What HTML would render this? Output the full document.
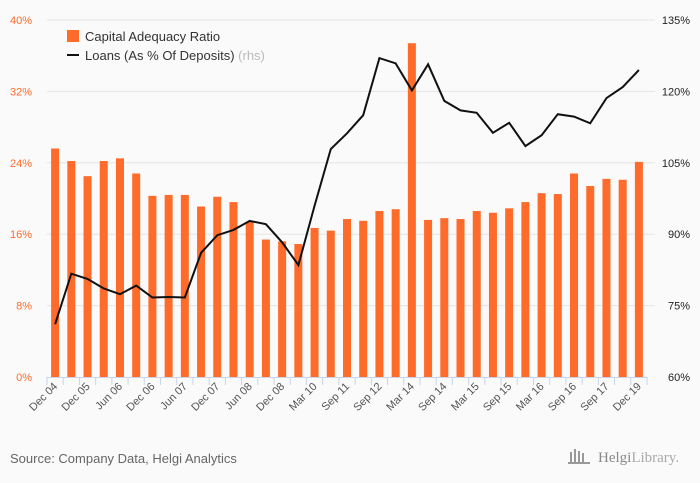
<!DOCTYPE html>
<html><head><meta charset="utf-8"><style>
html,body{margin:0;padding:0;background:#fafafa;}
body{width:700px;height:483px;overflow:hidden;font-family:"Liberation Sans",sans-serif;}
</style></head><body>
<svg width="700" height="483" viewBox="0 0 700 483" style="display:block">
<g id="grid"></g>
<g id="bars"></g>
<g id="line"></g>
<g id="yl"></g>
<g id="yr"></g>
<g id="xa"></g>
<g>
<rect x="67" y="30" width="12" height="12" fill="#ff6b2b"/>
<text x="85" y="41" font-size="13" fill="#333">Capital Adequacy Ratio</text>
<line x1="67" y1="55" x2="79" y2="55" stroke="#111" stroke-width="2"/>
<text x="85" y="60" font-size="13" fill="#333">Loans (As % Of Deposits) <tspan fill="#bbb">(rhs)</tspan></text>
</g>
<text x="10" y="463" font-size="13" fill="#666">Source: Company Data, Helgi Analytics</text>
<text x="598" y="462" font-size="15" fill="#888" font-family="Liberation Serif, serif">Helgi<tspan fill="#aaa">Library.</tspan></text>
<g fill="#999"><rect x="570" y="452" width="2" height="10"/><rect x="574" y="449" width="2" height="13"/><rect x="578" y="451" width="2" height="11"/><rect x="582" y="453" width="2" height="9"/><rect x="568" y="462" width="22" height="2"/></g>
</svg>
<script>
const categories=["Dec 04","","Dec 05","","Jun 06","","Dec 06","","Jun 07","","Dec 07","","Jun 08","","Dec 08","","Mar 10","","Sep 11","","Sep 12","","Mar 14","","Sep 14","","Mar 15","","Sep 15","","Mar 16","","Sep 16","","Sep 17","","Dec 19"];
const carValues=[25.6,24.2,22.5,24.2,24.5,22.8,20.3,20.4,20.4,19.1,20.2,19.6,17.4,15.4,15.2,14.9,16.7,16.4,17.7,17.5,18.6,18.8,37.4,17.6,17.8,17.7,18.6,18.4,18.9,19.6,20.6,20.5,22.8,21.4,22.2,22.1,24.1];
const loanValues=[71.1,81.7,80.6,78.6,77.4,79.2,76.7,76.8,76.7,86.1,89.8,90.9,92.8,92.1,88.3,83.5,96.0,107.9,111.2,115.0,127.0,125.9,120.2,125.7,118.0,116.0,115.5,111.3,113.4,108.5,110.8,115.2,114.7,113.3,118.6,120.9,124.5];
const leftTicks=[0,8,16,24,32,40];
const rightTicks=[60,75,90,105,120,135];
const NS="http://www.w3.org/2000/svg";
const X0=47,X1=647,Y0=377,Y1=20;
const band=(X1-X0)/categories.length;
const xc=i=>X0+band*(i+0.5);
const yL=v=>Y0-(v/40)*(Y0-Y1);
const yR=v=>Y0-((v-60)/75)*(Y0-Y1);
function mk(tag,attrs,parent){const e=document.createElementNS(NS,tag);for(const k in attrs)e.setAttribute(k,attrs[k]);parent.appendChild(e);return e;}
const grid=document.getElementById('grid'),bars=document.getElementById('bars'),lineG=document.getElementById('line'),yl=document.getElementById('yl'),yr=document.getElementById('yr'),xa=document.getElementById('xa');
leftTicks.forEach((t,i)=>{
 if(t>0){const g=mk('line',{x1:X0,x2:655,y1:yL(t),y2:yL(t),stroke:'#e4e4e4','stroke-width':1},grid);
 
 }
 const a=mk('text',{x:32,y:yL(t)+4,'font-size':11,fill:'#ff6b2b','text-anchor':'end'},yl);a.textContent=t+'%';
 
 
 const rt=rightTicks[i];
 const b=mk('text',{x:690,y:yR(rt)+4,'font-size':11,fill:'#222','text-anchor':'end'},yr);b.textContent=rt+'%';
 
 
});
carValues.forEach((v,i)=>{
 const r=mk('rect',{x:xc(i)-4,y:yL(v),width:8,height:Y0-yL(v),fill:'#ff6b2b'},bars);
 
 
});
const pts=loanValues.map((v,i)=>xc(i).toFixed(1)+','+yR(v).toFixed(1)).join(' ');
const pl=mk('polyline',{points:pts,fill:'none',stroke:'#111','stroke-width':2,'stroke-linejoin':'miter'},lineG);


const ax=mk('line',{x1:X0,x2:X1,y1:Y0+0.5,y2:Y0+0.5,stroke:'#c8d4e8'},xa);


for(let i=0;i<=categories.length;i++){
 const t=mk('line',{x1:X0+band*i,x2:X0+band*i,y1:Y0,y2:Y0+8,stroke:'#c8d4e8'},xa);
 
 
}
categories.forEach((c,i)=>{
 if(!c)return;
 const x=xc(i)+3,y=Y0+10;
 const t=mk('text',{x:x,y:y,'font-size':11,fill:'#555','text-anchor':'end',transform:'rotate(-45 '+x+' '+y+')'},xa);
 t.textContent=c;
 
 
});
</script>
</body></html>
